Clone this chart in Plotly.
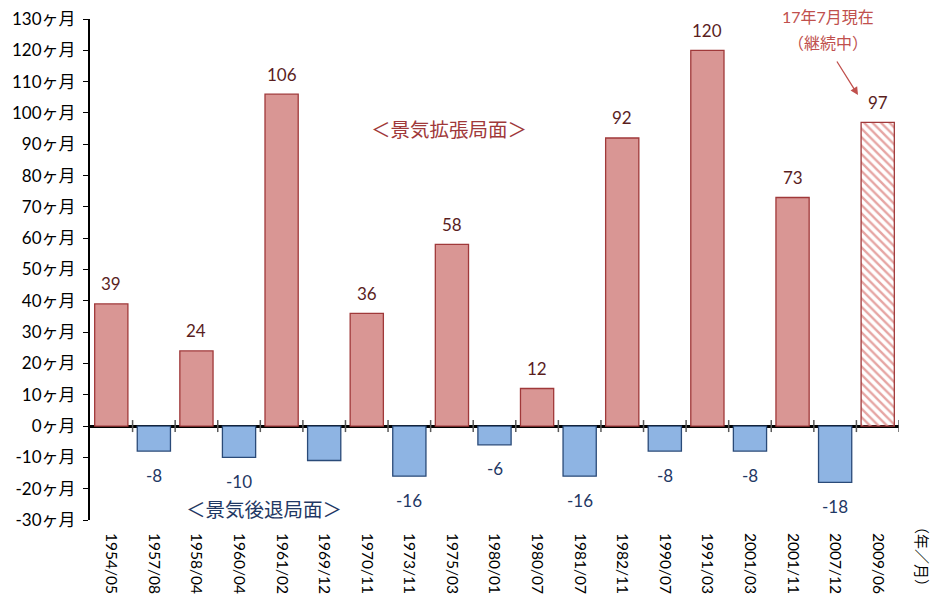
import plotly.graph_objects as go

categories = ["1954/05", "1957/08", "1958/04", "1960/04", "1961/02", "1969/12", "1970/11",
              "1973/11", "1975/03", "1980/01", "1980/07", "1981/07", "1982/11", "1990/07",
              "1991/03", "2001/03", "2001/11", "2007/12", "2009/06"]
months = [39, -8, 24, -10, 106, -11, 36, -16, 58, -6, 12, -16, 92, -8, 120, -8, 73, -18, 97]
# value label hidden behind the "景気後退局面" text box in the reference
hidden_labels = ["1969/12"]
ytick_vals = list(range(-30, 131, 10))
ytick_text = [f"{v}ヶ月" for v in ytick_vals]

FONT = "Lato, 'Noto Sans CJK JP', sans-serif"
POS_FILL, POS_LINE, POS_TEXT = "#D99694", "#A0393A", "#5A1E1E"
NEG_FILL, NEG_LINE, NEG_TEXT = "#8EB4E3", "#2A4A78", "#1F3864"
HATCH = "#E6A5A3"

fills, lines, patterns = [], [], []
for i, v in enumerate(months):
    last = i == len(months) - 1
    if v >= 0:
        fills.append(HATCH if last else POS_FILL)
        lines.append(POS_LINE)
    else:
        fills.append(NEG_FILL)
        lines.append(NEG_LINE)
    patterns.append("\\" if last else "")

fig = go.Figure()
fig.add_trace(go.Bar(
    x=categories, y=months,
    marker=dict(color=fills, line=dict(color=lines, width=1.3),
                pattern=dict(shape=patterns, fillmode="replace", size=6, solidity=0.4)),
    width=0.78, hoverinfo="skip",
))

annotations = []
for c, v in zip(categories, months):
    if c in hidden_labels:
        continue
    annotations.append(dict(
        x=c, y=v, xref="x", yref="y", text=str(v), showarrow=False,
        yshift=20 if v >= 0 else -24, yanchor="middle", xanchor="center",
        font=dict(size=17, color=POS_TEXT if v >= 0 else NEG_TEXT, family=FONT)))

W, H = 935, 595
ML, MR, MT, MB = 90, 36, 19, 75
pw, ph = W - ML - MR, H - MT - MB

def px(x, y):
    return (x - ML) / pw, 1 - (y - MT) / ph

text_items = [
    (449, 129, "＜景気拡張局面＞", 19.5, "#A0393A", 0),
    (264, 509, "＜景気後退局面＞", 19.5, "#1F3864", 0),
    (828, 17, "17年7月現在", 16, "#C0504D", 0),
    (828, 42, "（継続中）", 16, "#C0504D", 0),
    (922, 556, "（年／月）", 15, "#000000", 90),
]
for x, y, t, s, col, ang in text_items:
    xp, yp = px(x, y)
    annotations.append(dict(x=xp, y=yp, xref="paper", yref="paper", text=t, showarrow=False,
                            xanchor="center", yanchor="middle", textangle=ang,
                            font=dict(size=s, color=col, family=FONT)))

# arrow
xa, ya = px(858, 95)
annotations.append(dict(
    x=xa, y=ya, xref="paper", yref="paper",
    ax=-22, ay=-35, text="", showarrow=True, arrowhead=2, arrowsize=1.2,
    arrowwidth=1.3, arrowcolor="#C0504D"))

shapes = []
for k in range(1, len(categories) + 1):
    shapes.append(dict(type="line", xref="x", yref="y", x0=k - 0.5, x1=k - 0.5,
                       ysizemode="pixel", yanchor=0, y0=-6, y1=6,
                       line=dict(color="#595959", width=1.5)))

fig.update_layout(
    width=W, height=H, margin=dict(l=ML, r=MR, t=MT, b=MB),
    paper_bgcolor="white", plot_bgcolor="white", showlegend=False,
    annotations=annotations, shapes=shapes,
    font=dict(family=FONT, size=15, color="#000000"),
    xaxis=dict(type="category", range=[-0.5, len(categories) - 0.5], showline=False,
               showgrid=False, zeroline=False, tickangle=90, ticks="", ticklen=0,
               tickfont=dict(size=15.5, color="#000000"), automargin=False, ticklabelstandoff=12),
    yaxis=dict(range=[-30, 130], tickvals=ytick_vals, ticktext=ytick_text, showgrid=False,
               showline=True, linecolor="#000000", linewidth=2, ticks="outside", ticklen=5,
               tickcolor="#000000", zeroline=True, zerolinecolor="#000000", zerolinewidth=2.5,
               tickfont=dict(size=17, color="#000000"), automargin=False, ticklabelstandoff=4),
)

fig.write_html("out.html")
